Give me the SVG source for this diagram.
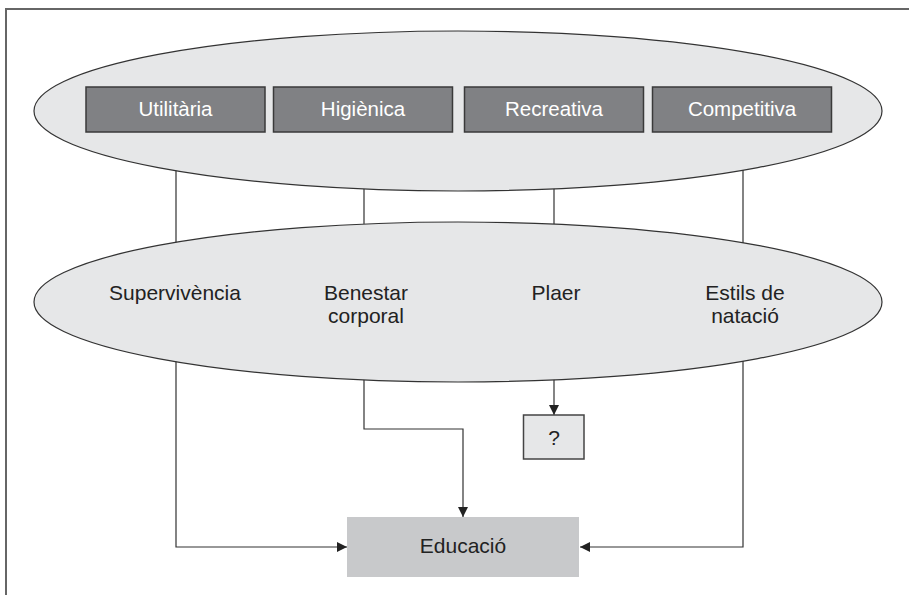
<svg xmlns="http://www.w3.org/2000/svg" width="909" height="595" viewBox="0 0 909 595">
<defs>
<style>
.frame{fill:none;stroke:#666;stroke-width:2}
.ell{fill:#e6e7e8;stroke:#333;stroke-width:1.2}
.box{fill:#808184;stroke:#3a3a3a;stroke-width:1.5}
.wt{font-family:"Liberation Sans",Arial,sans-serif;font-size:20.5px;fill:#fff;text-anchor:middle}
.bt{font-family:"Liberation Sans",Arial,sans-serif;font-size:21px;fill:#222;text-anchor:middle}
.conn{fill:none;stroke:#333;stroke-width:1.2}
</style>
<marker id="ah" viewBox="0 0 10 10" refX="10" refY="5" markerWidth="11" markerHeight="10" markerUnits="userSpaceOnUse" orient="auto">
<path d="M0,0 L10,5 L0,10 Z" fill="#222"/>
</marker>
</defs>
<rect width="909" height="595" fill="#fff"/>
<path class="frame" d="M6,595 V9 H909"/>
<g id="connectors">
<polyline class="conn" points="176,160 176,547 347,547" marker-end="url(#ah)"/>
<polyline class="conn" points="364,160 364,429 463,429 463,517" marker-end="url(#ah)"/>
<polyline class="conn" points="554,160 554,415" marker-end="url(#ah)"/>
<polyline class="conn" points="743,160 743,547 580,547" marker-end="url(#ah)"/>
</g>
<g id="types">
<ellipse class="ell" cx="458" cy="111" rx="424" ry="80"/>
<g id="utilitaria">
<rect class="box" x="86" y="87" width="179" height="45"/>
<text class="wt" x="175.5" y="116">Utilitària</text>
</g>
<g id="higienica">
<rect class="box" x="273.5" y="87" width="179" height="45"/>
<text class="wt" x="363" y="116">Higiènica</text>
</g>
<g id="recreativa">
<rect class="box" x="464.5" y="87" width="179" height="45"/>
<text class="wt" x="554" y="116">Recreativa</text>
</g>
<g id="competitiva">
<rect class="box" x="652.5" y="87" width="179" height="45"/>
<text class="wt" x="742" y="116">Competitiva</text>
</g>
</g>
<g id="goals">
<ellipse class="ell" cx="458" cy="302" rx="424" ry="80"/>
<text class="bt" x="175" y="300">Supervivència</text>
<text class="bt" x="366" y="300">Benestar</text>
<text class="bt" x="366" y="323">corporal</text>
<text class="bt" x="556" y="300">Plaer</text>
<text class="bt" x="745" y="300">Estils de</text>
<text class="bt" x="745" y="323">natació</text>
</g>
<g id="question">
<rect x="523.5" y="415" width="60.5" height="44" fill="#e6e7e8" stroke="#444" stroke-width="1.5"/>
<text class="bt" x="554" y="445">?</text>
</g>
<g id="educacio">
<rect x="347" y="517" width="232" height="60" fill="#c8c9cb"/>
<text class="bt" x="463" y="553">Educació</text>
</g>
</svg>
